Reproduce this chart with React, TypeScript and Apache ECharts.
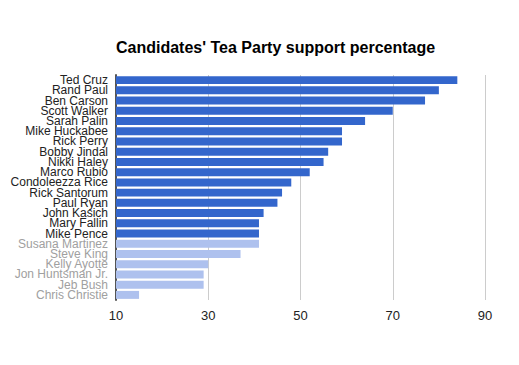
import React, { useEffect, useRef } from "react";
import * as echarts from "echarts";

const candidates = [
  "Ted Cruz", "Rand Paul", "Ben Carson", "Scott Walker", "Sarah Palin",
  "Mike Huckabee", "Rick Perry", "Bobby Jindal", "Nikki Haley", "Marco Rubio",
  "Condoleezza Rice", "Rick Santorum", "Paul Ryan", "John Kasich", "Mary Fallin",
  "Mike Pence", "Susana Martinez", "Steve King", "Kelly Ayotte", "Jon Huntsman Jr.",
  "Jeb Bush", "Chris Christie",
];
const support = [84, 80, 77, 70, 64, 59, 59, 56, 55, 52, 48, 46, 45, 42, 41, 41, 41, 37, 30, 29, 29, 15];
const faded = [false, false, false, false, false, false, false, false, false, false, false, false, false, false, false, false, true, true, true, true, true, true];
const xTicks = [10, 30, 50, 70, 90];

export default function App() {
  const ref = useRef<HTMLDivElement>(null);
  useEffect(() => {
    if (!ref.current) return;
    const chart = echarts.init(ref.current, null, { renderer: "svg" });
    chart.setOption({
      animation: false,
      title: {
        text: "Candidates' Tea Party support percentage",
        left: 116,
        top: 39,
        padding: 0,
        textStyle: { fontFamily: "Arial, Liberation Sans", fontSize: 16, fontWeight: "bold", color: "#000" },
      },
      grid: { left: 116, right: 34, top: 75, bottom: 65, containLabel: false },
      xAxis: {
        type: "value",
        min: xTicks[0],
        max: xTicks[xTicks.length - 1],
        interval: 20,
        axisLine: { show: false },
        axisTick: { show: false },
        splitLine: { lineStyle: { color: "#cccccc", width: 1 } },
        axisLabel: { color: "#222", fontSize: 13, fontFamily: "Arial, Liberation Sans", margin: 9 },
      },
      yAxis: {
        type: "category",
        data: candidates,
        inverse: true,
        axisTick: { show: false },
        axisLine: { show: true, lineStyle: { color: "#555", width: 2 } },
        axisLabel: {
          fontSize: 12,
          fontFamily: "Arial, Liberation Sans",
          margin: 8,
          interval: 0,
          lineHeight: 10,
          color: (_v: string, i: number) => (faded[i] ? "#a0a0a0" : "#222222"),
        },
      },
      series: [
        {
          type: "bar",
          data: support.map((v, i) => ({
            value: v,
            itemStyle: { color: faded[i] ? "#aec1ee" : "#3366cc" },
          })),
          barCategoryGap: "22%",
        },
      ],
    });
    return () => chart.dispose();
  }, []);
  return <div ref={ref} style={{ width: 519, height: 365, margin: -8 }} />;
}
